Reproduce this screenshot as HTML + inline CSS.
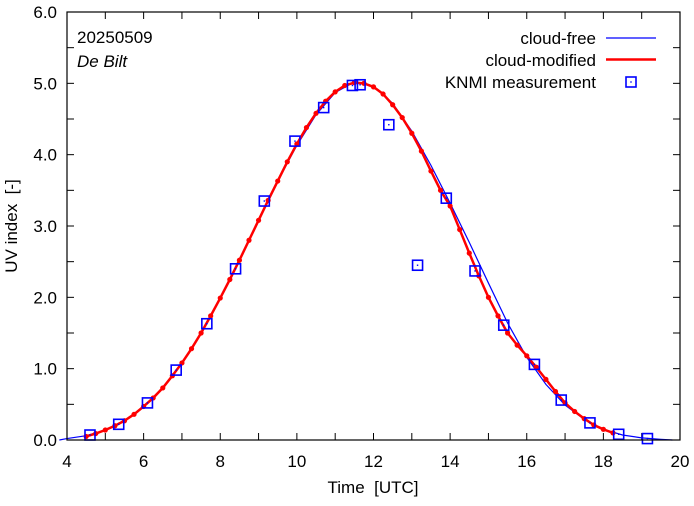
<!DOCTYPE html>
<html><head><meta charset="utf-8"><style>
body{margin:0;background:#fff}
svg text{font-family:"Liberation Sans",sans-serif;font-size:17px;fill:#000}
</style></head><body>
<svg id="chart" width="694" height="501">
<g id="g"></g>
<g>
<text x="77" y="43">20250509</text>
<text x="77" y="67" font-style="italic">De Bilt</text>
<text x="373" y="493" text-anchor="middle">Time&#160;&#160;[UTC]</text>
<text transform="translate(17,226) rotate(-90)" text-anchor="middle">UV index&#160;&#160;[-]</text>
</g>
<g>
<g>
<text x="596" y="44" text-anchor="end">cloud-free</text>
<line x1="606" x2="656" y1="38" y2="38" stroke="#0000ff" stroke-width="1.2"/></g>
<g>
<text x="596" y="66" text-anchor="end">cloud-modified</text>
<line x1="606" x2="656" y1="59.5" y2="59.5" stroke="#ff0000" stroke-width="2.5"/></g>
<g>
<text x="596" y="88" text-anchor="end">KNMI measurement</text>
<rect x="626" y="77" width="10" height="10" fill="none" stroke="#0000ff" stroke-width="1.6"/>
<rect x="630.3" y="81.3" width="1.4" height="1.4" fill="#0000ff"/></g>
</g>
</svg>
<script>
const xTicks=[4,6,8,10,12,14,16,18,20];
const yTicks=[0,1,2,3,4,5,6];
const measTime=[4.6,5.35,6.1,6.85,7.65,8.4,9.15,9.95,10.7,11.45,11.65,12.4,13.15,13.9,14.65,15.4,16.2,16.9,17.65,18.4,19.15];
const measUV=[0.07,0.22,0.52,0.98,1.63,2.4,3.35,4.19,4.66,4.97,4.98,4.42,2.45,3.39,2.37,1.61,1.06,0.56,0.24,0.08,0.02];
const freeTime=[3.8,4.0,4.5,5.0,5.5,6.0,6.5,7.0,7.5,8.0,8.5,9.0,9.5,10.0,10.5,11.0,11.5,12.0,12.5,13.0,13.5,14.0,14.5,15.0,15.5,16.0,16.5,17.0,17.5,18.0,18.5,19.0,19.5,19.8];
const freeUV=[0.0,0.02,0.06,0.14,0.27,0.47,0.73,1.08,1.5,1.99,2.52,3.08,3.63,4.13,4.56,4.87,5.02,4.96,4.72,4.33,3.85,3.32,2.77,2.2,1.64,1.16,0.78,0.49,0.29,0.15,0.07,0.03,0.01,0.0];
const cloudTime=[4.5,4.75,5.0,5.25,5.5,5.75,6.0,6.25,6.5,6.75,7.0,7.25,7.5,7.75,8.0,8.25,8.5,8.75,9.0,9.25,9.5,9.75,10.0,10.25,10.5,10.75,11.0,11.25,11.5,11.75,12.0,12.25,12.5,12.75,13.0,13.25,13.5,13.75,14.0,14.25,14.5,14.75,15.0,15.25,15.5,15.75,16.0,16.25,16.5,16.75,17.0,17.25,17.5,17.75,18.0,18.25];
const cloudUV=[0.05,0.09,0.14,0.2,0.27,0.36,0.47,0.59,0.73,0.9,1.08,1.28,1.5,1.74,1.99,2.25,2.52,2.8,3.08,3.36,3.63,3.9,4.15,4.38,4.58,4.75,4.88,4.97,5.01,5.0,4.95,4.85,4.7,4.52,4.3,4.05,3.77,3.5,3.28,2.95,2.62,2.3,2.0,1.74,1.5,1.33,1.18,1.02,0.85,0.68,0.52,0.4,0.3,0.21,0.15,0.1];
const L=67,R=680,T=12,B=440;
const X=v=>L+(v-4)/16*(R-L);
const Y=v=>B-v/6*(B-T);
const g=document.getElementById('g');
const NS='http://www.w3.org/2000/svg';
function mk(t,a){const e=document.createElementNS(NS,t);for(const k in a)e.setAttribute(k,a[k]);g.appendChild(e);return e;}
for(let h=4;h<=20;h++){
 let e=mk('line',{x1:X(h),x2:X(h),y1:B,y2:B-7,stroke:'#000'});
 
 
 e=mk('line',{x1:X(h),x2:X(h),y1:T,y2:T+7,stroke:'#000'});
 
 
}
for(let v=0;v<=6;v+=0.5){
 let e=mk('line',{x1:L,x2:L+7,y1:Y(v),y2:Y(v),stroke:'#000'});
 
 
 e=mk('line',{x1:R,x2:R-7,y1:Y(v),y2:Y(v),stroke:'#000'});
 
 
}
xTicks.forEach(v=>{const e=mk('text',{x:X(v),y:B+27,'text-anchor':'middle'});e.textContent=v;
 
 });
yTicks.forEach(v=>{const e=mk('text',{x:L-10,y:Y(v)+6,'text-anchor':'end'});e.textContent=v.toFixed(1);
 
 });
let p=mk('polyline',{points:freeTime.map((t,i)=>X(t)+','+Y(freeUV[i])).join(' '),fill:'none',stroke:'#0000ff','stroke-width':1.2});


p=mk('polyline',{points:cloudTime.map((t,i)=>X(t)+','+Y(cloudUV[i])).join(' '),fill:'none',stroke:'#ff0000','stroke-width':2.5});


cloudTime.forEach((t,i)=>{const c=mk('circle',{cx:X(t),cy:Y(cloudUV[i]),r:2.6,fill:'#ff0000'});
 
 });
measTime.forEach((t,i)=>{const x=X(t),y=Y(measUV[i]);
 const r=mk('rect',{x:x-5,y:y-5,width:10,height:10,fill:'none',stroke:'#0000ff','stroke-width':1.6});
 
 
 mk('rect',{x:x-0.7,y:y-0.7,width:1.4,height:1.4,fill:'#0000ff'});});
const f=mk('rect',{x:L,y:T,width:R-L,height:B-T,fill:'none',stroke:'#000','stroke-width':1.2});


</script>
</body></html>
